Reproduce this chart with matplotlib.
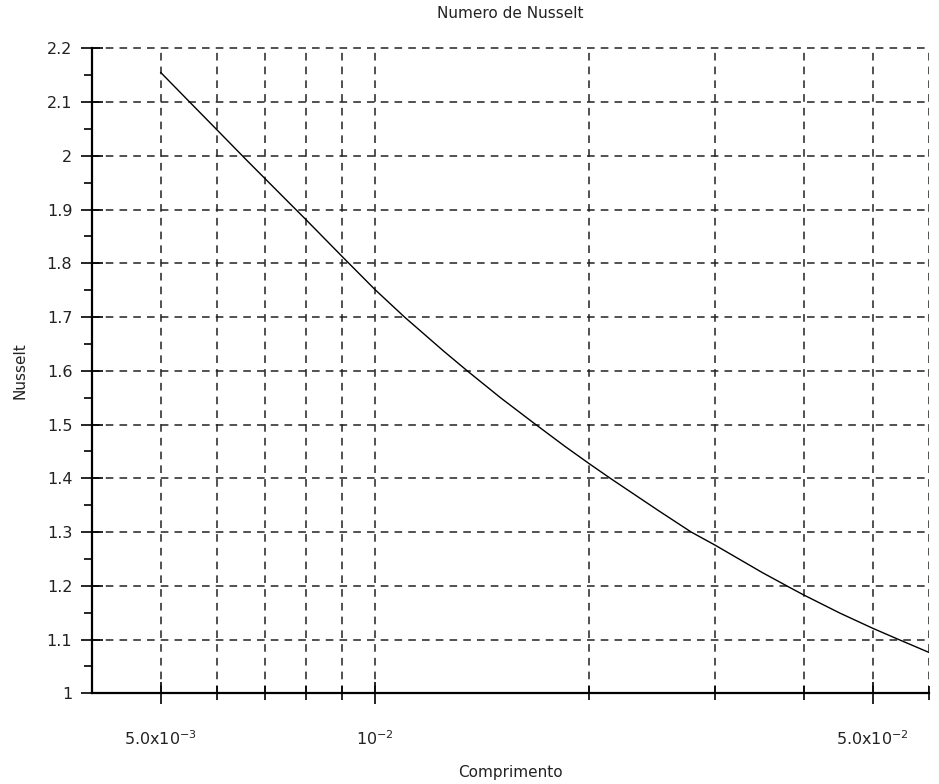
import matplotlib.pyplot as plt
from matplotlib.ticker import FixedLocator, NullFormatter

# comprimento (m) e numero de Nusselt
comprimento = [0.005, 0.0055, 0.006, 0.0066, 0.007, 0.0077, 0.008, 0.009, 0.01,
               0.011, 0.0125, 0.0135, 0.015, 0.0167, 0.0185, 0.02, 0.0214, 0.025,
               0.0278, 0.03, 0.035, 0.0384, 0.04, 0.045, 0.05, 0.0544, 0.06]
nusselt = [2.155, 2.099, 2.048, 1.992, 1.958, 1.903, 1.881, 1.812, 1.751,
           1.700, 1.636, 1.599, 1.550, 1.503, 1.459, 1.427, 1.400, 1.340,
           1.300, 1.276, 1.2245, 1.1955, 1.183, 1.149, 1.121, 1.100, 1.076]

x_major = [0.005, 0.01, 0.05]
x_major_labels = [r'5.0x10$^{-3}$', r'10$^{-2}$', r'5.0x10$^{-2}$']
x_minor = [0.006, 0.007, 0.008, 0.009, 0.02, 0.03, 0.04, 0.06]
y_ticks = [1.0, 1.1, 1.2, 1.3, 1.4, 1.5, 1.6, 1.7, 1.8, 1.9, 2.0, 2.1, 2.2]
y_labels = ['1', '1.1', '1.2', '1.3', '1.4', '1.5', '1.6', '1.7', '1.8', '1.9', '2', '2.1', '2.2']
y_minor = [1.05 + 0.1 * i for i in range(12)]

plt.rcParams['font.family'] = 'DejaVu Sans'
plt.rcParams['mathtext.default'] = 'regular'

fig = plt.figure(figsize=(9.39, 7.84), dpi=100)
ax = fig.add_axes([0.0977, 0.1157, 0.8917, 0.8227])

ax.plot(comprimento, nusselt, color='black', lw=1.0, zorder=3)

ax.set_xscale('log')
ax.set_xlim(0.004, 0.06)
ax.set_ylim(1.0, 2.2)

ax.xaxis.set_major_locator(FixedLocator(x_major))
ax.set_xticklabels(x_major_labels)
ax.xaxis.set_minor_locator(FixedLocator(x_minor))
ax.xaxis.set_minor_formatter(NullFormatter())
ax.set_yticks(y_ticks)
ax.set_yticklabels(y_labels)
ax.yaxis.set_minor_locator(FixedLocator(y_minor))

ax.tick_params(axis='x', which='major', direction='inout', length=16, width=1.2,
               pad=18, labelsize=11.5, labelcolor='#222222')
ax.tick_params(axis='x', which='minor', direction='inout', length=10, width=1.2)
ax.tick_params(axis='y', which='major', direction='inout', length=16, width=1.2,
               pad=6, labelsize=11.5, labelcolor='#222222')
ax.tick_params(axis='y', which='minor', direction='out', length=6, width=1.2)

for s in ['top', 'right']:
    ax.spines[s].set_visible(False)
for s in ['left', 'bottom']:
    ax.spines[s].set_linewidth(1.6)
    ax.spines[s].set_zorder(4)

grid_style = dict(color='#222222', linestyle=(0, (5, 4)), linewidth=1.1)
ax.grid(True, which='major', axis='both', **grid_style)
ax.grid(True, which='minor', axis='x', **grid_style)
for line in ax.get_xgridlines() + ax.get_ygridlines():
    line.set_clip_on(False)

ax.set_title('Numero de Nusselt', fontsize=11, color='#222222', pad=22)
ax.set_xlabel('Comprimento', fontsize=11, color='#222222', labelpad=12)
ax.set_ylabel('Nusselt', fontsize=11, color='#222222', labelpad=14)

fig.savefig('out.png', dpi=100)
